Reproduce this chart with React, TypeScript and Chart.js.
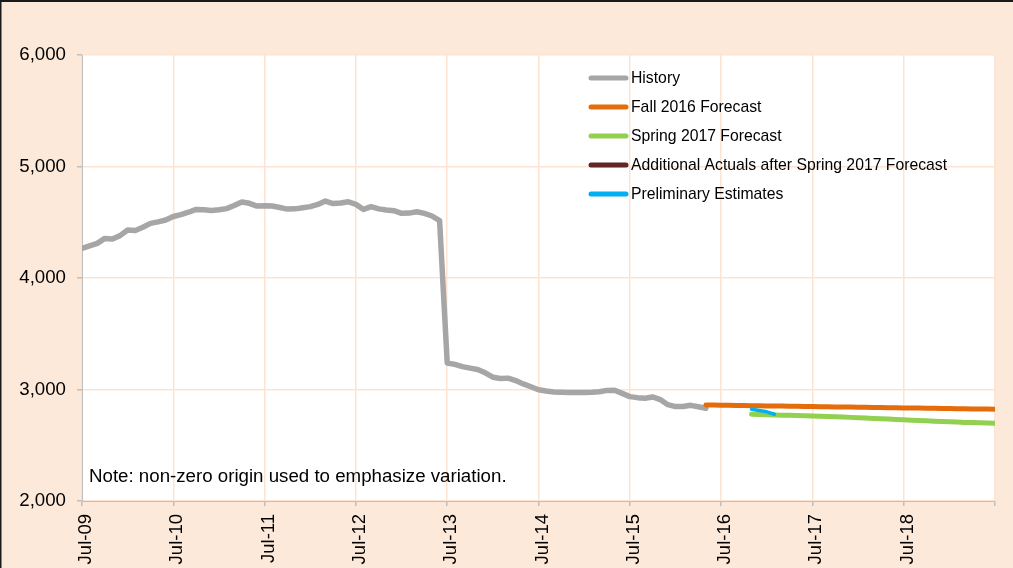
import { useEffect, useRef } from 'react';
import { Chart, registerables } from 'chart.js';

Chart.register(...registerables);

// Month index 0 = Jul-09, 120 = Jul-19
const xTickLabels = ['Jul-09', 'Jul-10', 'Jul-11', 'Jul-12', 'Jul-13', 'Jul-14', 'Jul-15', 'Jul-16', 'Jul-17', 'Jul-18'];
const yMin = 2000;
const yMax = 6000;
const yStep = 1000;

const seriesLabels = [
  'History',
  'Fall 2016 Forecast',
  'Spring 2017 Forecast',
  'Additional Actuals after Spring 2017 Forecast',
  'Preliminary Estimates',
];
const seriesColors = ['#A6A6A6', '#E46C0A', '#92D050', '#632523', '#00B0F0'];
const seriesWidths = [5.5, 5, 5, 5, 3.5];

const historyStart = 0;
const historyValues = [
  4266, 4288, 4311, 4355, 4350, 4380, 4430, 4426, 4455, 4490, 4503, 4520,
  4552, 4568, 4590, 4615, 4612, 4605, 4612, 4622, 4650, 4682, 4670, 4645,
  4648, 4646, 4632, 4618, 4620, 4630, 4640, 4660, 4690, 4668, 4672, 4684,
  4660, 4615, 4640, 4620, 4610, 4604, 4580, 4582, 4594, 4580, 4556, 4514,
  3238, 3225, 3205, 3192, 3180, 3150, 3110, 3098, 3102, 3080, 3050, 3025,
  2998, 2986, 2977, 2975, 2973, 2974, 2972, 2975, 2980, 2992, 2994, 2965,
  2936, 2927, 2922, 2933, 2910, 2864, 2847, 2847, 2858, 2845, 2832,
];

const fall2016Start = 82;
const fall2016Values = [
  2861, 2860, 2859, 2858, 2857, 2856, 2855, 2854, 2853, 2852, 2851, 2850,
  2849, 2848, 2847, 2846, 2845, 2844, 2843, 2842, 2841, 2840, 2839, 2838,
  2837, 2836, 2835, 2834, 2833, 2832, 2831, 2830, 2829, 2828, 2827, 2826,
  2825, 2824, 2823,
];

const spring2017Start = 88;
const spring2017Values = [
  2778, 2776, 2774, 2772, 2770, 2768, 2766, 2764, 2762, 2760, 2758, 2756,
  2753, 2750, 2747, 2744, 2741, 2738, 2735, 2732, 2728, 2725, 2722, 2719,
  2716, 2713, 2710, 2708, 2705, 2703, 2701, 2699, 2697,
];

const additionalStart = 0;
const additionalValues: number[] = [];

const prelimStart = 88;
const prelimValues = [2822, 2812, 2800, 2778];

const noteText = 'Note: non-zero origin used to emphasize variation.';

const FONT = '"Liberation Sans", Arial, Helvetica, sans-serif';
const PEACH = '#FDE9D9';
const GRID = '#FDE4D2';
const AXIS = '#BFBFBF';

const toPoints = (start: number, values: number[]) =>
  values.map((v, i) => ({ x: start + i, y: v }));

const bgPlugin = {
  id: 'bgPlugin',
  beforeDraw(chart: any) {
    const { ctx, width, height, chartArea } = chart;
    ctx.save();
    ctx.fillStyle = PEACH;
    ctx.fillRect(0, 0, width, height);
    ctx.fillStyle = '#FFFFFF';
    ctx.fillRect(chartArea.left, chartArea.top, chartArea.right - chartArea.left, chartArea.bottom - chartArea.top);
    ctx.fillStyle = '#1a1a1a';
    ctx.fillRect(0, 0, width, 2);
    ctx.fillRect(0, 0, 1.5, height);
    ctx.restore();
  },
};

const legendPlugin = {
  id: 'legendPlugin',
  afterDatasetsDraw(chart: any) {
    const { ctx } = chart;
    ctx.save();
    ctx.textBaseline = 'middle';
    ctx.textAlign = 'left';
    chart.data.datasets.forEach((ds: any, i: number) => {
      const y = 78 + i * 29;
      ctx.strokeStyle = ds.borderColor;
      ctx.lineWidth = 5;
      ctx.lineCap = 'round';
      ctx.beginPath();
      ctx.moveTo(591, y);
      ctx.lineTo(626, y);
      ctx.stroke();
      ctx.fillStyle = '#000000';
      ctx.font = `15.75px ${FONT}`;
      ctx.fillText(ds.label, 631, y + 1);
    });
    ctx.font = `18.7px ${FONT}`;
    ctx.fillStyle = '#000000';
    ctx.fillText(noteText, 89, 477);
    ctx.restore();
  },
};

export default function App() {
  const canvasRef = useRef<HTMLCanvasElement | null>(null);

  useEffect(() => {
    document.body.style.margin = '0';
    const canvas = canvasRef.current;
    if (!canvas) return;
    const seriesData = [
      toPoints(historyStart, historyValues),
      toPoints(fall2016Start, fall2016Values),
      toPoints(spring2017Start, spring2017Values),
      toPoints(additionalStart, additionalValues),
      toPoints(prelimStart, prelimValues),
    ];
    const drawOrder = [5, 2, 3, 4, 1];
    const chart = new Chart(canvas, {
      type: 'line',
      data: {
        datasets: seriesLabels.map((label, i) => ({
          label,
          data: seriesData[i],
          borderColor: seriesColors[i],
          backgroundColor: seriesColors[i],
          borderWidth: seriesWidths[i],
          pointRadius: 0,
          pointHoverRadius: 0,
          tension: 0,
          borderCapStyle: 'round' as const,
          borderJoinStyle: 'round' as const,
          fill: false,
          order: drawOrder[i],
        })),
      },
      options: {
        responsive: false,
        animation: false,
        devicePixelRatio: 1,
        layout: { padding: { top: 55, right: 18, bottom: 0, left: 0 } },
        plugins: {
          legend: { display: false },
          tooltip: { enabled: false },
        },
        scales: {
          x: {
            type: 'linear',
            min: 0,
            max: 120,
            afterBuildTicks: (scale: any) => {
              scale.ticks = xTickLabels.map((_, i) => ({ value: i * 12 })).concat([{ value: 120 }]);
            },
            afterFit: (scale: any) => {
              scale.height = 67;
              scale.paddingLeft = 0;
              scale.paddingRight = 0;
            },
            grid: {
              color: GRID,
              lineWidth: 1.5,
              tickColor: AXIS,
              tickLength: 5,
              drawTicks: true,
            },
            border: { color: AXIS, width: 1 },
            ticks: {
              autoSkip: false,
              maxRotation: 90,
              minRotation: 90,
              padding: 8,
              labelOffset: 4,
              color: '#000000',
              font: { family: FONT, size: 18.5 },
              callback: (value: any) => {
                const idx = Math.round(Number(value) / 12);
                return Number(value) % 12 === 0 && idx < xTickLabels.length ? xTickLabels[idx] : '';
              },
            },
          },
          y: {
            type: 'linear',
            min: yMin,
            max: yMax,
            afterFit: (scale: any) => {
              scale.width = 82;
              scale.paddingTop = 0;
              scale.paddingBottom = 0;
            },
            grid: {
              color: GRID,
              lineWidth: 1.5,
              tickColor: AXIS,
              tickLength: 5,
            },
            border: { color: AXIS, width: 1 },
            ticks: {
              stepSize: yStep,
              padding: 11,
              color: '#000000',
              font: { family: FONT, size: 18.7 },
              callback: (value: any) => Number(value).toLocaleString('en-US'),
            },
          },
        },
      },
      plugins: [bgPlugin, legendPlugin],
    });
    return () => chart.destroy();
  }, []);

  return (
    <div style={{ position: 'absolute', left: 0, top: 0, width: 1013, height: 568 }}>
      <canvas ref={canvasRef} width={1013} height={568} />
    </div>
  );
}
